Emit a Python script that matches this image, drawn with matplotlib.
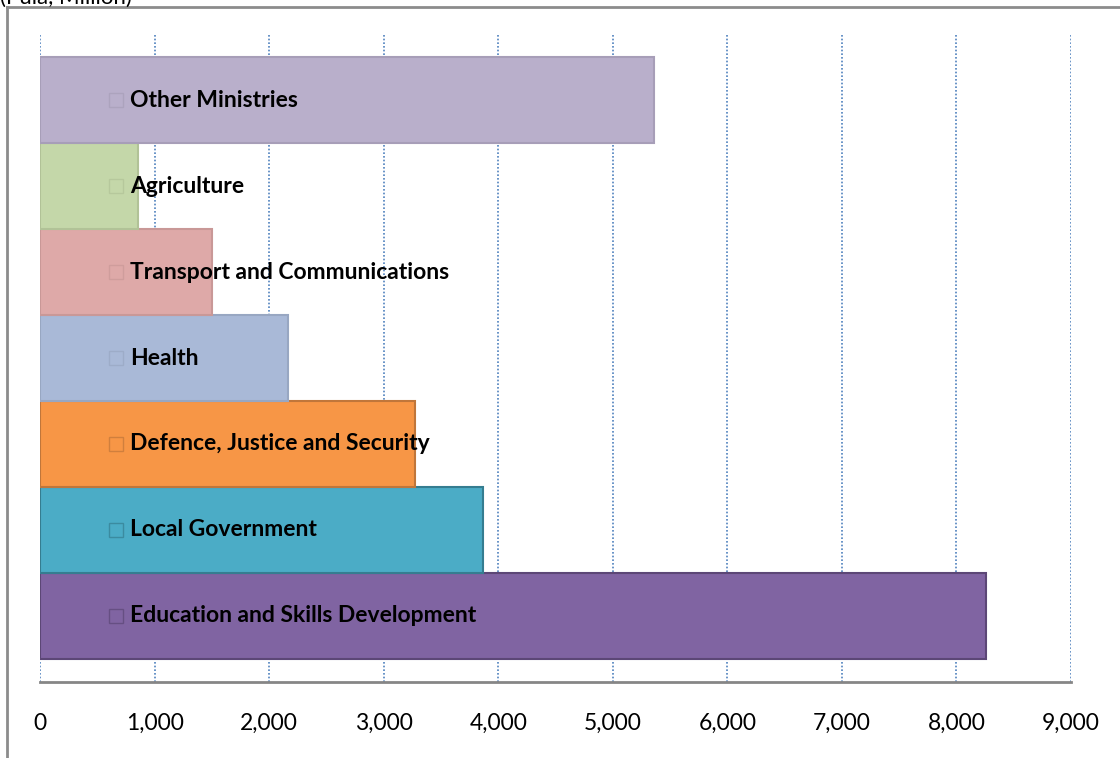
import matplotlib.pyplot as plt
from matplotlib.lines import Line2D
from matplotlib.transforms import ScaledTranslation
from matplotlib.ticker import FuncFormatter

# categories bottom -> top
categories = ["Education and Skills Development", "Local Government",
              "Defence, Justice and Security", "Health",
              "Transport and Communications", "Agriculture", "Other Ministries"]
values = [8258, 3867, 3273, 2165, 1501, 855, 5360]
face_colors = ["#8064A2", "#4BACC6", "#F79646", "#A9B9D7",
               "#DEA9A8", "#C4D7A9", "#B9AFCB"]
edge_colors = ["#5C4776", "#357D90", "#C0763A", "#98A7C2",
               "#C99897", "#B1C297", "#A79EB8"]
x_ticks = list(range(0, 10000, 1000))

plt.rcParams["font.family"] = ["Lato", "DejaVu Sans"]

fig = plt.figure(figsize=(11.2, 7.58), dpi=100)
W, H = 1120, 758
ax = fig.add_axes([40 / W, (H - 682) / H, (1071 - 40) / W, (682 - 34) / H])

ypos = list(range(len(categories)))
ax.barh(ypos, values, height=1.0, color=face_colors, edgecolor=edge_colors,
        linewidth=1.5, zorder=2)

# legend-key square + label inside each bar
shift = ax.transData + ScaledTranslation(76 / 100, 0, fig.dpi_scale_trans)
for y, name, ec in zip(ypos, categories, edge_colors):
    ax.plot([0], [y], marker="s", markersize=10.5, markerfacecolor="none",
            markeredgecolor=ec, markeredgewidth=1, alpha=0.7, zorder=3,
            transform=shift)
    ax.annotate(name, xy=(0, y), xytext=(90, 0), textcoords="offset pixels",
                ha="left", va="center", fontsize=16.5, fontweight="bold",
                color="black", zorder=4)

ax.set_xlim(0, 9000)
ax.set_ylim(-0.77, len(categories) - 1 + 0.77)
ax.set_xticks(x_ticks)
ax.xaxis.set_major_formatter(FuncFormatter(lambda v, p: f"{int(v):,}"))
ax.tick_params(axis="x", length=0, pad=22, labelsize=16.5)
ax.set_yticks([])
ax.grid(axis="x", linestyle=(0, (1, 1.2)), color="#4F81BD", linewidth=1.2)
ax.set_axisbelow(True)
for s in ["top", "right", "left"]:
    ax.spines[s].set_visible(False)
ax.spines["bottom"].set_color("#868686")
ax.spines["bottom"].set_linewidth(2)
ax.spines["bottom"].set_zorder(5)

# outer chart frame (partly cropped)
frame_kw = dict(color="#8C8C8C", linewidth=2, transform=None)
fig.lines.append(Line2D([7, 7], [0, H - 7], **frame_kw))
fig.lines.append(Line2D([7, W], [H - 7, H - 7], **frame_kw))

fig.text(0, 1 + 12 / H, "(Pula, Million)", fontsize=16, ha="left", va="top")

fig.savefig("out.png", dpi=100)
